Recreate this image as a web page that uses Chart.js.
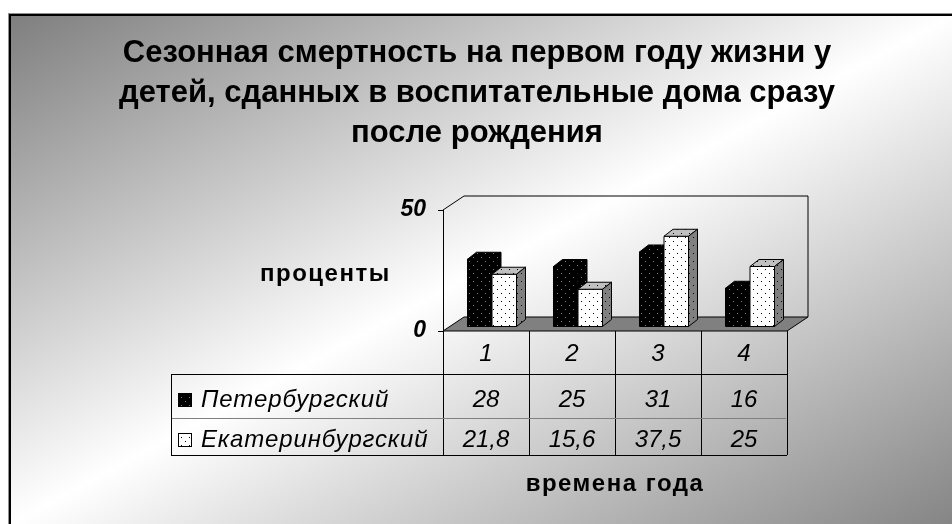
<!DOCTYPE html>
<html>
<head>
<meta charset="utf-8">
<style>
  html, body { margin: 0; padding: 0; background: #fff; }
  #wrap { width: 952px; height: 524px; }
</style>
<script src="https://cdn.jsdelivr.net/npm/chart.js@4.4.1/dist/chart.umd.min.js"></script>
</head>
<body>
<div id="wrap"><canvas id="chart" width="952" height="524"></canvas></div>
<script>
// Data
var TITLE_LINES = [
  'Сезонная смертность на первом году жизни у',
  'детей, сданных в воспитательные дома сразу',
  'после рождения'
];
var Y_TITLE = 'проценты';
var X_TITLE = 'времена года';
var SEASONS = ['1', '2', '3', '4'];
var SERIES_NAMES = ['Петербургский', 'Екатеринбургский'];
var PETERSBURG = [28, 25, 31, 16];
var EKATERINBURG = [21.8, 15.6, 37.5, 25];
var Y_MIN = 0;
var Y_MAX = 50;
var Y_STEP = 50;

var FONT = '"Liberation Sans", Arial, sans-serif';

// 3-D look: floor/wall depth, how far bars stand behind the front edge, bar depth
var DEPTH = { dx: 21, dy: -14 };
var BAR_SHIFT = { dx: 6, dy: -4 };
var BAR_DEPTH = { dx: 9, dy: -7 };

// data table below the plot (layout only)
var TABLE = { left: 171, headerBottom: 374, rowSep: 418, bottom: 455 };
var TABLE_BASELINES = [361, 407, 447];

var canvas = document.getElementById('chart');
var ctx0 = canvas.getContext('2d');

function dotPattern(bg, dot) {
  var c = document.createElement('canvas');
  c.width = 8; c.height = 8;
  var g = c.getContext('2d');
  g.fillStyle = bg; g.fillRect(0, 0, 8, 8);
  g.fillStyle = dot;
  g.fillRect(1, 1, 1, 1);
  g.fillRect(5, 5, 1, 1);
  return ctx0.createPattern(c, 'repeat');
}

var FACES = [
  { front: dotPattern('#000', '#808080'), top: dotPattern('#000', '#808080'), side: dotPattern('#000', '#808080') },
  { front: dotPattern('#fff', '#000'), top: dotPattern('#c0c0c0', '#000'), side: dotPattern('#808080', '#000') }
];

function poly(ctx, pts, fill) {
  ctx.beginPath();
  ctx.moveTo(pts[0][0], pts[0][1]);
  for (var i = 1; i < pts.length; i++) ctx.lineTo(pts[i][0], pts[i][1]);
  ctx.closePath();
  if (fill) { ctx.fillStyle = fill; ctx.fill(); }
  ctx.stroke();
}

function line(ctx, x1, y1, x2, y2) {
  ctx.beginPath();
  ctx.moveTo(x1, y1);
  ctx.lineTo(x2, y2);
  ctx.stroke();
}

function fmt(v) {
  return String(v).replace('.', ',');
}

var scene = {
  id: 'scene',
  beforeDraw: function (chart) {
    var ctx = chart.ctx;
    var W = chart.width, H = chart.height;
    ctx.save();
    ctx.fillStyle = '#fff';
    ctx.fillRect(0, 0, W, H);
    // diagonal grey-white-grey fill, white band running bottom-left to top-right
    var x0 = 11, y0 = 16, w = W - x0, h = H - y0;
    var cx = x0 + w / 2, cy = y0 + h / 2;
    var k = (w * h) / (w * w + h * h);
    var grad = ctx.createLinearGradient(cx - h * k, cy - w * k, cx + h * k, cy + w * k);
    grad.addColorStop(0, '#7f7f7f');
    grad.addColorStop(0.5, '#ffffff');
    grad.addColorStop(1, '#858585');
    ctx.fillStyle = grad;
    ctx.fillRect(x0, y0, w, h);
    // frame
    ctx.strokeStyle = '#909090';
    ctx.lineWidth = 1;
    line(ctx, 8.5, 13, 8.5, H);
    line(ctx, 8, 13.5, W, 13.5);
    ctx.strokeStyle = '#000';
    ctx.lineWidth = 2;
    line(ctx, 10, 14, 10, H);
    line(ctx, 9, 15, W, 15);
    ctx.restore();
  },
  beforeDatasetsDraw: function (chart) {
    var ctx = chart.ctx, a = chart.chartArea;
    ctx.save();
    ctx.strokeStyle = '#000';
    ctx.lineWidth = 1;
    // side and back wall outline
    line(ctx, a.left, a.top, a.left + DEPTH.dx, a.top + DEPTH.dy);
    line(ctx, a.left + DEPTH.dx, a.top + DEPTH.dy, a.right + DEPTH.dx, a.top + DEPTH.dy);
    line(ctx, a.right + DEPTH.dx, a.top + DEPTH.dy, a.right + DEPTH.dx, a.bottom + DEPTH.dy);
    // floor
    poly(ctx, [
      [a.left, a.bottom], [a.right, a.bottom],
      [a.right + DEPTH.dx, a.bottom + DEPTH.dy], [a.left + DEPTH.dx, a.bottom + DEPTH.dy]
    ], '#808080');
    ctx.restore();
  },
  afterDatasetsDraw: function (chart) {
    var ctx = chart.ctx;
    ctx.save();
    ctx.strokeStyle = '#000';
    ctx.lineWidth = 1;
    ctx.lineJoin = 'miter';
    for (var i = 0; i < SEASONS.length; i++) {
      for (var d = 0; d < chart.data.datasets.length; d++) {
        var el = chart.getDatasetMeta(d).data[i];
        var p = el.getProps(['x', 'y', 'base', 'width'], true);
        var l = p.x - p.width / 2 + BAR_SHIFT.dx;
        var r = p.x + p.width / 2 + BAR_SHIFT.dx;
        var t = p.y + BAR_SHIFT.dy;
        var b = p.base + BAR_SHIFT.dy;
        var f = FACES[d];
        poly(ctx, [[l, t], [r, t], [r, b], [l, b]], f.front);
        poly(ctx, [[l, t], [l + BAR_DEPTH.dx, t + BAR_DEPTH.dy], [r + BAR_DEPTH.dx, t + BAR_DEPTH.dy], [r, t]], f.top);
        poly(ctx, [[r, t], [r + BAR_DEPTH.dx, t + BAR_DEPTH.dy], [r + BAR_DEPTH.dx, b + BAR_DEPTH.dy], [r, b]], f.side);
      }
    }
    ctx.restore();
  },
  afterDraw: function (chart) {
    var ctx = chart.ctx, a = chart.chartArea;
    var n = SEASONS.length;
    var colW = (a.right - a.left) / n;
    ctx.save();
    ctx.fillStyle = '#000';
    ctx.textBaseline = 'alphabetic';

    // title
    ctx.font = 'bold 31px ' + FONT;
    ctx.textAlign = 'center';
    TITLE_LINES.forEach(function (s, i) {
      ctx.fillText(s, 477, 62 + i * 40);
    });

    // axis titles
    ctx.font = 'bold 24px ' + FONT;
    ctx.letterSpacing = '1.5px';
    ctx.textAlign = 'left';
    ctx.fillText(Y_TITLE, 260, 281);
    ctx.textAlign = 'center';
    ctx.fillText(X_TITLE, (a.left + a.right) / 2, 491);
    ctx.letterSpacing = '0px';

    // data table
    ctx.strokeStyle = '#000';
    ctx.lineWidth = 1;
    for (var k = 0; k <= n; k++) {
      var xl = Math.round(a.left + k * colW) + 0.5;
      line(ctx, xl, a.bottom, xl, TABLE.bottom);
    }
    line(ctx, TABLE.left + 0.5, TABLE.headerBottom, TABLE.left + 0.5, TABLE.bottom);
    line(ctx, TABLE.left, TABLE.headerBottom + 0.5, a.right, TABLE.headerBottom + 0.5);
    line(ctx, TABLE.left, TABLE.bottom + 0.5, a.right, TABLE.bottom + 0.5);
    ctx.strokeStyle = '#808080';
    line(ctx, TABLE.left + 1, TABLE.rowSep + 0.5, a.right - 1, TABLE.rowSep + 0.5);

    ctx.font = 'italic 24px ' + FONT;
    ctx.textAlign = 'center';
    var xs = chart.scales.x;
    for (var i = 0; i < n; i++) {
      var cxc = xs.getPixelForValue(i);
      ctx.fillText(SEASONS[i], cxc, TABLE_BASELINES[0]);
      chart.data.datasets.forEach(function (ds, d) {
        ctx.fillText(fmt(ds.data[i]), cxc, TABLE_BASELINES[d + 1]);
      });
    }

    // legend keys
    chart.data.datasets.forEach(function (ds, d) {
      var base = TABLE_BASELINES[d + 1];
      ctx.strokeStyle = '#000';
      ctx.fillStyle = FACES[d].front;
      ctx.fillRect(178, base - 14, 14, 14);
      ctx.strokeRect(178.5, base - 13.5, 13, 13);
      ctx.fillStyle = '#000';
      ctx.textAlign = 'left';
      ctx.letterSpacing = '0.85px';
      ctx.fillText(ds.label, 201, base);
      ctx.letterSpacing = '0px';
    });
    ctx.restore();
  }
};

new Chart(canvas, {
  type: 'bar',
  data: {
    labels: SEASONS,
    datasets: [
      { label: SERIES_NAMES[0], data: PETERSBURG, backgroundColor: 'rgba(0,0,0,0)', borderWidth: 0 },
      { label: SERIES_NAMES[1], data: EKATERINBURG, backgroundColor: 'rgba(0,0,0,0)', borderWidth: 0 }
    ]
  },
  options: {
    responsive: false,
    animation: false,
    devicePixelRatio: 1,
    layout: { padding: { left: 383, top: 210, right: 165, bottom: 193 } },
    datasets: { bar: { categoryPercentage: 0.57, barPercentage: 1 } },
    plugins: {
      legend: { display: false },
      title: { display: false },
      tooltip: { enabled: false }
    },
    scales: {
      x: { display: false },
      y: {
        min: Y_MIN,
        max: Y_MAX,
        afterFit: function (scale) { scale.width = 60; },
        ticks: {
          stepSize: Y_STEP,
          color: '#000',
          padding: 12,
          font: { family: FONT, size: 23, style: 'italic', weight: 'bold' }
        },
        grid: { drawOnChartArea: false, drawTicks: true, tickLength: 5, color: '#000' },
        border: { display: true, color: '#000', width: 1 }
      }
    }
  },
  plugins: [scene]
});
</script>
</body>
</html>
